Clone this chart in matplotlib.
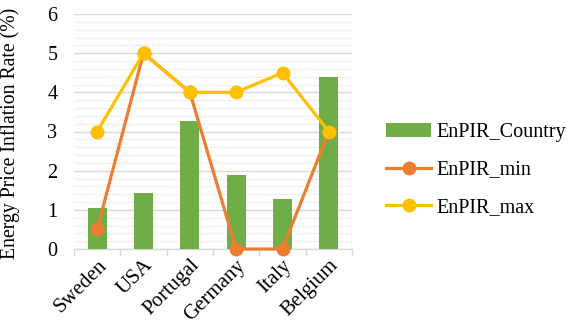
import numpy as np
import matplotlib
matplotlib.use("Agg")
import matplotlib.pyplot as plt
from matplotlib.ticker import MultipleLocator

countries = ["Sweden", "USA", "Portugal", "Germany", "Italy", "Belgium"]
enpir_country = [1.05, 1.42, 3.28, 1.9, 1.27, 4.4]
enpir_min = [0.5, 5.0, 4.0, 0.0, 0.0, 3.0]
enpir_max = [3.0, 5.0, 4.0, 4.0, 4.5, 3.0]

plt.rcParams['font.family'] = ['Liberation Serif', 'DejaVu Serif']

fig = plt.figure(figsize=(5.79, 3.29), dpi=100)
ax = fig.add_axes([74/579, 1 - 249/329, 278/579, 235/329])

x = np.arange(len(countries))
bars = ax.bar(x, enpir_country, width=0.41, color='#70AD47', label='EnPIR_Country', zorder=2)
l1, = ax.plot(x, enpir_min, color='#ED7D31', lw=2.3, marker='o', ms=9, label='EnPIR_min',
              zorder=3, clip_on=False)
l2, = ax.plot(x, enpir_max, color='#FFC000', lw=2.3, marker='o', ms=9, label='EnPIR_max',
              zorder=4, clip_on=False)

ax.set_xlim(-0.5, len(countries) - 0.5)
ax.set_ylim(0, 6)
ax.yaxis.set_major_locator(MultipleLocator(1))
ax.yaxis.set_minor_locator(MultipleLocator(0.2))
ax.grid(axis='y', which='major', color='#d9d9d9', lw=1.0, zorder=0)
ax.grid(axis='y', which='minor', color='#eeeeee', lw=0.8, zorder=0)
ax.set_axisbelow(True)

for s in ['top', 'right', 'left']:
    ax.spines[s].set_visible(False)
ax.spines['bottom'].set_color('#d9d9d9')
ax.spines['bottom'].set_linewidth(1.0)
ax.spines['bottom'].set_zorder(1)

ax.set_xticks(x)
ax.set_xticklabels(countries, rotation=45, ha='right', rotation_mode='anchor', fontsize=15)
ax.tick_params(axis='x', length=0, pad=5)
ax.set_xticks(np.arange(-0.5, len(countries)), minor=True)
ax.tick_params(axis='x', which='minor', length=5, color='#d9d9d9', width=1.0)
ax.tick_params(axis='y', which='both', length=0, labelsize=14.5, pad=12)
ax.set_ylabel('Energy Price Inflation Rate (%)', fontsize=14.2)
ax.yaxis.set_label_coords(-0.194, 0.49)

ax.legend(handles=[bars, l1, l2], loc='center left', bbox_to_anchor=(386/579, 1 - 170/329),
          bbox_transform=fig.transFigure, frameon=False, fontsize=14.5, handlelength=2.25,
          labelspacing=0.9, handletextpad=0.25, borderpad=0, borderaxespad=0)

fig.savefig('out.png', dpi=100)
